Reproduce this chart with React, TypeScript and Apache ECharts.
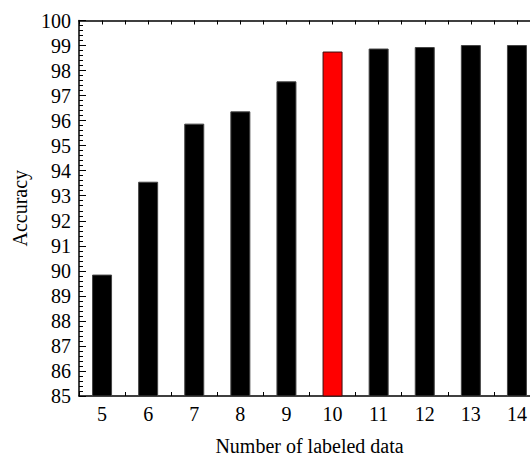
import React, { useEffect, useRef } from "react";
import * as echarts from "echarts";

const categories = ["5", "6", "7", "8", "9", "10", "11", "12", "13", "14"];
const accuracy = [89.85, 93.56, 95.88, 96.37, 97.57, 98.76, 98.88, 98.94, 99.02, 99.02];
const highlightIndex = 5;

const FONT = "Times New Roman, Liberation Serif, serif";

export default function App() {
  const ref = useRef<HTMLDivElement>(null);
  useEffect(() => {
    if (!ref.current) return;
    const chart = echarts.init(ref.current, undefined, { renderer: "svg" });
    const tickAxis = (pos: "top" | "bottom") => ({
      type: "value",
      position: pos,
      min: 4.5,
      max: 14.5,
      interval: 0.5,
      axisLine: { show: true, onZero: false, lineStyle: { color: "#000", width: 1.5 } },
      axisTick: { show: true, inside: true, length: 4, lineStyle: { color: "#000", width: 1 } },
      axisLabel: { show: false },
      splitLine: { show: false },
    });
    chart.setOption({
      animation: false,
      textStyle: { fontFamily: FONT },
      grid: {
        left: 79,
        top: 20.5,
        width: 461,
        height: 375.5,
        containLabel: false,
        outerBoundsMode: "none",
      },
      xAxis: [
        {
          type: "category",
          data: categories,
          position: "bottom",
          name: "Number of labeled data",
          nameLocation: "middle",
          nameGap: 40,
          nameTextStyle: { fontFamily: FONT, fontSize: 20, color: "#000", lineHeight: 20 },
          axisLine: { show: false },
          axisTick: { show: false },
          axisLabel: { fontFamily: FONT, fontSize: 20, color: "#000", margin: 8 },
          splitLine: { show: false },
        },
        tickAxis("bottom"),
        tickAxis("top"),
      ],
      yAxis: {
        type: "value",
        min: 85,
        max: 100,
        interval: 1,
        name: "Accuracy",
        nameLocation: "middle",
        nameGap: 49,
        nameTextStyle: { fontFamily: FONT, fontSize: 20, color: "#000" },
        axisLine: { show: true, lineStyle: { color: "#000", width: 1.5 } },
        axisTick: { show: true, inside: true, length: 7, lineStyle: { color: "#000", width: 1 } },
        minorTick: { show: true, splitNumber: 5, length: 4, lineStyle: { color: "#000", width: 1 } },
        axisLabel: { fontFamily: FONT, fontSize: 20, color: "#000", margin: 8 },
        splitLine: { show: false },
      },
      series: [
        {
          type: "bar",
          xAxisIndex: 0,
          barWidth: 20,
          data: accuracy.map((v, i) => ({
            value: v,
            itemStyle:
              i === highlightIndex
                ? { color: "#ff0000", borderColor: "#3a1010", borderWidth: 1 }
                : { color: "#000", borderColor: "#444", borderWidth: 1 },
          })),
        },
      ],
    });
    return () => chart.dispose();
  }, []);
  return (
    <div
      ref={ref}
      style={{ position: "fixed", left: 0, top: 0, width: 530, height: 457, background: "#fff" }}
    />
  );
}
